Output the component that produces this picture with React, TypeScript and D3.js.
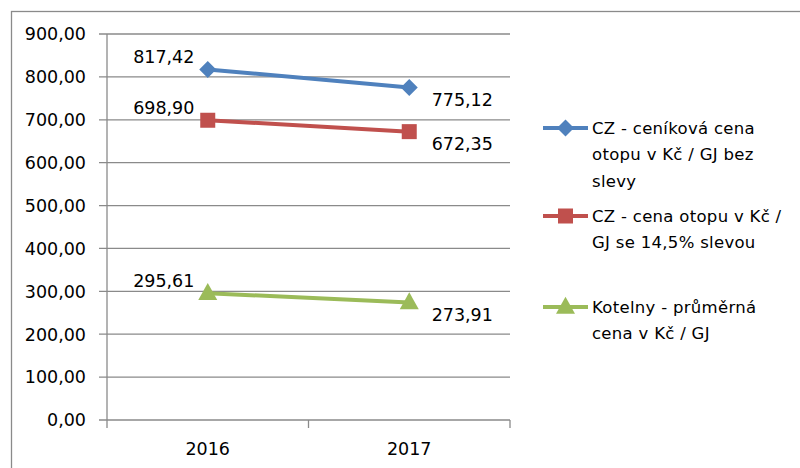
import React from "react";
import * as d3 from "d3";

const categories = ["2016", "2017"];
const seriesNames = [
  ["CZ - ceníková cena", "otopu v Kč / GJ bez", "slevy"],
  ["CZ - cena otopu v Kč /", "GJ se 14,5% slevou"],
  ["Kotelny - průměrná", "cena v Kč / GJ"],
];
const seriesValues = [
  [817.42, 775.12],
  [698.9, 672.35],
  [295.61, 273.91],
];
const seriesColors = ["#4F81BD", "#C0504D", "#9BBB59"];
const seriesMarkers = ["diamond", "square", "triangle"];
const yTicks = [0, 100, 200, 300, 400, 500, 600, 700, 800, 900];

const W = 800, H = 468;
const plot = { left: 107, right: 510, top: 34, bottom: 420 };
const font = "'DejaVu Sans', Verdana, sans-serif";

const fmt = (v: number) => v.toFixed(2).replace(".", ",");

function Marker({ kind, x, y, color }: { kind: string; x: number; y: number; color: string }) {
  if (kind === "diamond") {
    const r = 8.5;
    return <path d={`M${x},${y - r}L${x + r},${y}L${x},${y + r}L${x - r},${y}Z`} fill={color} />;
  }
  if (kind === "square") {
    const s = 15;
    return <rect x={x - s / 2} y={y - s / 2} width={s} height={s} fill={color} />;
  }
  const s = 19;
  const h = 17;
  return (
    <path
      d={`M${x},${y - h * 0.6}L${x + s / 2},${y + h * 0.4}L${x - s / 2},${y + h * 0.4}Z`}
      fill={color}
    />
  );
}

export default function App() {
  const y = d3.scaleLinear().domain([0, 900]).range([plot.bottom, plot.top]);
  const x = d3.scaleBand().domain(categories).range([plot.left, plot.right]);
  const cx = (c: string) => (x(c) as number) + x.bandwidth() / 2;
  const line = d3
    .line<number>()
    .x((_, i) => cx(categories[i]))
    .y((d) => y(d));

  const legendY = [128, 216, 307];
  const lineGap = 26.5;

  return (
    <svg
      width={W}
      height={H}
      style={{ position: "absolute", left: 0, top: 0, background: "#fff" }}
      fontFamily={font}
    >
      <rect x={11.5} y={11.5} width={900} height={600} fill="none" stroke="#8a8a8a" strokeWidth={1.3} />
      {yTicks.map((t) => (
        <g key={t}>
          <line x1={plot.left - 8} x2={plot.right} y1={y(t)} y2={y(t)} stroke="#8a8a8a" strokeWidth={1.3} />
          <text x={86} y={y(t)} dy="0.36em" textAnchor="end" fontSize={17.5} fill="#000">
            {fmt(t)}
          </text>
        </g>
      ))}
      <line x1={plot.left} x2={plot.left} y1={plot.top} y2={plot.bottom + 8} stroke="#8a8a8a" strokeWidth={1.3} />
      {[plot.left + x.bandwidth(), plot.right].map((p, i) => (
        <line key={i} x1={p} x2={p} y1={plot.bottom} y2={plot.bottom + 8} stroke="#8a8a8a" strokeWidth={1.3} />
      ))}
      {categories.map((c) => (
        <text key={c} x={cx(c)} y={449} dy="0.36em" textAnchor="middle" fontSize={17.5} fill="#000">
          {c}
        </text>
      ))}
      {seriesValues.map((vals, si) => (
        <g key={si}>
          <path d={line(vals) as string} fill="none" stroke={seriesColors[si]} strokeWidth={4} />
          {vals.map((v, i) => (
            <Marker key={i} kind={seriesMarkers[si]} x={cx(categories[i])} y={y(v)} color={seriesColors[si]} />
          ))}
          {vals.map((v, i) => (
            <text
              key={"l" + i}
              x={cx(categories[i]) + (i === 0 ? -44 : 53)}
              y={y(v) + (i === 0 ? -13 : 12)}
              dy="0.36em"
              textAnchor="middle"
              fontSize={17.5}
              fill="#000"
            >
              {fmt(v)}
            </text>
          ))}
        </g>
      ))}
      {seriesNames.map((lines, si) => (
        <g key={si}>
          <line x1={543} x2={588} y1={legendY[si]} y2={legendY[si]} stroke={seriesColors[si]} strokeWidth={4} />
          <Marker kind={seriesMarkers[si]} x={565.5} y={legendY[si]} color={seriesColors[si]} />
          {lines.map((t, li) => (
            <text key={li} x={592} y={legendY[si] + li * lineGap} dy="0.36em" fontSize={16.5} letterSpacing={0.3} fill="#000">
              {t}
            </text>
          ))}
        </g>
      ))}
    </svg>
  );
}
